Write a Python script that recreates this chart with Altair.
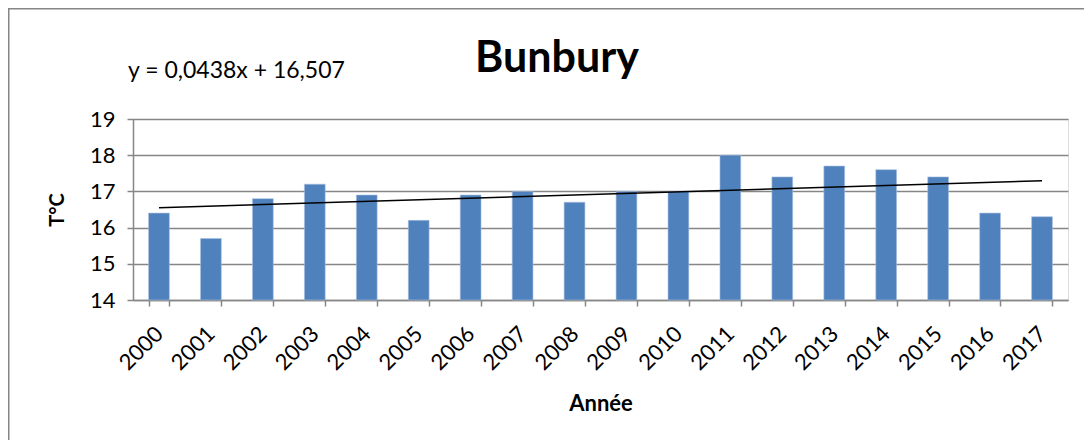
import altair as alt
import numpy as np
import pandas as pd

years = [str(y) for y in range(2000, 2018)]
temps = [16.4, 15.7, 16.8, 17.2, 16.9, 16.2, 16.9, 17.0, 16.7, 17.0,
         17.0, 18.0, 17.4, 17.7, 17.6, 17.4, 16.4, 16.3]
y_ticks = [14, 15, 16, 17, 18, 19]
equation = "y = 0,0438x + 16,507"
chart_title = "Bunbury"
x_title = "Année"
y_title = "T°C"

FONT = "Lato"
W, H = 935, 181
PAD = {"left": 125, "top": 111, "right": 16, "bottom": 140}

df = pd.DataFrame({"year": years, "temp": temps, "base": [y_ticks[0]] * len(years)})

# linear trend (Excel-style, x = 1..n)
idx = np.arange(1, len(temps) + 1)
slope, intercept = np.polyfit(idx, temps, 1)
trend = pd.DataFrame({
    "year": [years[0], years[-1]],
    "temp": [slope * idx[0] + intercept, slope * idx[-1] + intercept],
})

x_enc = alt.X(
    "year:O",
    sort=years,
    title=x_title,
    scale=alt.Scale(paddingInner=0.6, paddingOuter=0.3),
    axis=alt.Axis(
        labelAngle=-45, labelAlign="right", labelBaseline="middle",
        labelFontSize=22, labelFont=FONT, labelColor="black", labelPadding=24,
        labelOverlap=False, labelLimit=200,
        tickBand="extent", tickSize=6, tickColor="#868686", tickWidth=1.5,
        domainColor="#868686", domainWidth=1.5, grid=False,
        titleFont=FONT, titleFontSize=22, titleFontWeight="bold",
        titleColor="black", titlePadding=20,
    ),
)

y_enc = alt.Y(
    "temp:Q",
    title=y_title,
    scale=alt.Scale(domain=[y_ticks[0], y_ticks[-1]], zero=False, nice=False),
    axis=alt.Axis(
        values=y_ticks, format="d", labelOverlap=False,
        labelFontSize=22, labelFont=FONT, labelColor="black", labelPadding=12,
        tickSize=6, tickColor="#868686", tickWidth=1.5,
        domainColor="#868686", domainWidth=1.5,
        grid=True, gridColor="#868686", gridWidth=1.5,
        titleFont=FONT, titleFontSize=20, titleFontWeight="bold",
        titleColor="black", titlePadding=22,
    ),
)

bars = alt.Chart(df).mark_bar(color="#4F81BD", stroke="#A7BFE0", strokeWidth=0.6).encode(
    x=x_enc,
    y=y_enc,
    y2="base:Q",
)

line = alt.Chart(trend).mark_line(color="black", strokeWidth=1.6).encode(
    x=alt.X("year:O", sort=years, bandPosition=0.5),
    y=y_enc,
)

eq = alt.Chart(pd.DataFrame({"t": [equation]})).mark_text(
    align="left", baseline="alphabetic", font=FONT, fontSize=23, color="black"
).encode(x=alt.value(-5), y=alt.value(-41), text="t:N")

ttl = alt.Chart(pd.DataFrame({"t": [chart_title]})).mark_text(
    align="center", baseline="alphabetic", font=FONT, fontSize=43,
    fontWeight="bold", color="black"
).encode(x=alt.value(424), y=alt.value(-47), text="t:N")

frame = alt.Chart(pd.DataFrame({"k": [0]})).mark_rect(
    fill=None, stroke="#868686", strokeWidth=1.5
).encode(
    x=alt.value(-PAD["left"] + 0.75), y=alt.value(-PAD["top"] + 0.75),
    x2=alt.value(W + PAD["right"] + 20), y2=alt.value(H + PAD["bottom"] + 20),
)

chart = alt.layer(frame, bars, line, eq, ttl).properties(
    width=W, height=H,
    padding=PAD,
    autosize=alt.AutoSizeParams(type="none"),
).configure_view(stroke=None).configure(background="white")

chart.save("out.html", embed_options={"renderer": "svg", "actions": False})
